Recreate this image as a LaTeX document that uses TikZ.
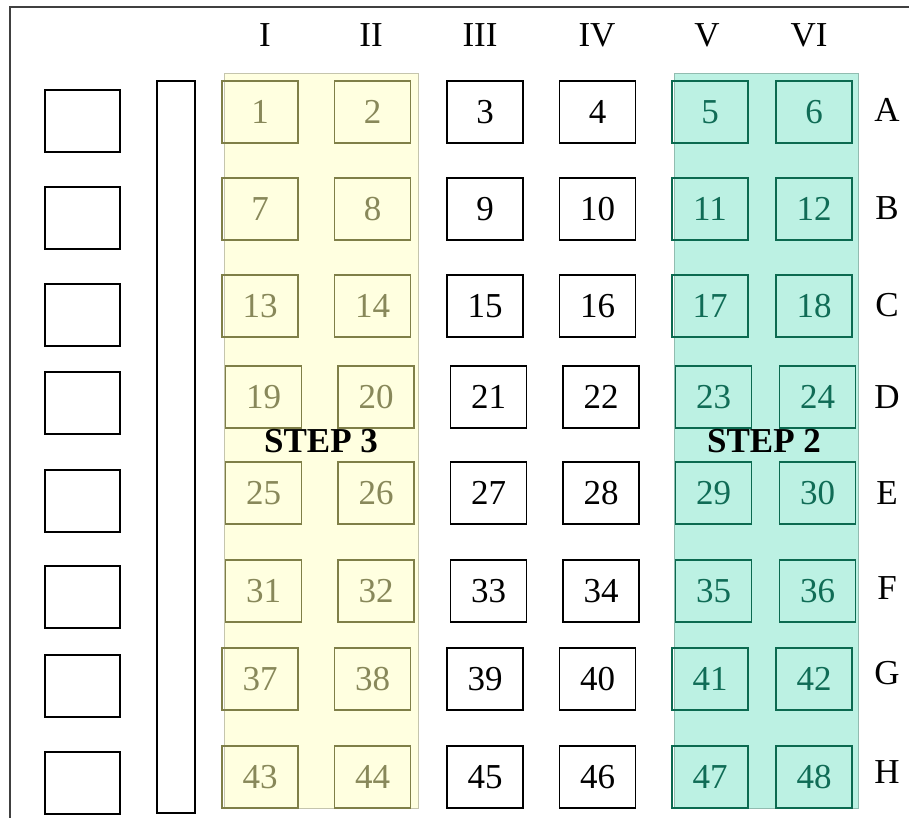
\documentclass[tikz,border=0pt]{standalone}
\usepackage{fontspec}
\setmainfont{Liberation Serif}
\usetikzlibrary{positioning}

\definecolor{bandyellow}{HTML}{FFFFE0}
\definecolor{bandgreen}{HTML}{BCF1E3}
\definecolor{olivebox}{HTML}{7F7F48}
\definecolor{olivetext}{HTML}{88885A}
\definecolor{tealbox}{HTML}{0B6A50}
\definecolor{tealtext}{HTML}{106C56}
\definecolor{framegray}{HTML}{404040}

\tikzset{
  plainbox/.style={draw=black, line width=0.7pt, inner sep=0pt,
    minimum width=38pt, minimum height=31pt},
  yellowbox/.style={plainbox, draw=olivebox, text=olivetext},
  greenbox/.style={plainbox, draw=tealbox, text=tealtext},
  slotbox/.style={draw=black, line width=0.7pt, inner sep=0pt,
    minimum width=37.5pt, minimum height=31pt},
  steplabel/.style={font=\fontsize{17.5}{20}\selectfont\bfseries, text=black},
  band/.style={line width=0.3pt}
}

\begin{document}
\begin{tikzpicture}[x=0.5pt,y=-0.5pt,
    font=\fontsize{17.5}{20}\selectfont]

  \path[use as bounding box] (0,0) rectangle (909,818);

  % frame
  \draw[framegray, line width=0.7pt] (10,818) -- (10,7) -- (909,7);

  % bands<<<
  \fill[bandyellow, draw=olivebox!45, band] (224,73) rectangle (418,808);
  \fill[bandgreen, draw=tealbox!45, band] (674,73) rectangle (858,808);
  % >>>

  % left slots and rail<<<
  \foreach \yt [count=\i] in {90,187,284,372,470,566,655,752}{
    \node[slotbox] (slot\i) at (82.5,\yt+31) {};
  }
  \draw[line width=0.7pt] (157,81) rectangle (195,813);
  % >>>

  % column labels<<<
  \foreach \c/\xc in {I/265, II/371, III/480, IV/597, V/707, VI/809}{
    \node (col-\c) at (\xc,35) {\c};
  }
  % >>>

  % row labels<<<
  \foreach \r/\yc in {A/110, B/208, C/305, D/397, E/493, F/588, G/673, H/772}{
    \node (row-\r) at (887,\yc) {\r};
  }
  % >>>

  % wells<<<
  \foreach \yc/\dx [count=\ri from 0] in
      {112/0, 209/0, 306/0, 397/3.5, 493/3.5, 591/3.5, 679/0, 777/0}{
    \foreach \xc/\kind [count=\ci] in
        {260/yellowbox, 372.5/yellowbox, 485/plainbox,
         597.5/plainbox, 710/greenbox, 814/greenbox}{
      \pgfmathtruncatemacro{\num}{6*\ri+\ci}
      \node[\kind] (box\num) at (\xc+\dx,\yc) {\num};
    }
  }
  % >>>

  \node[steplabel] (step3) at (321,441) {STEP 3};
  \node[steplabel] (step2) at (764,441) {STEP 2};

\end{tikzpicture}
\end{document}
